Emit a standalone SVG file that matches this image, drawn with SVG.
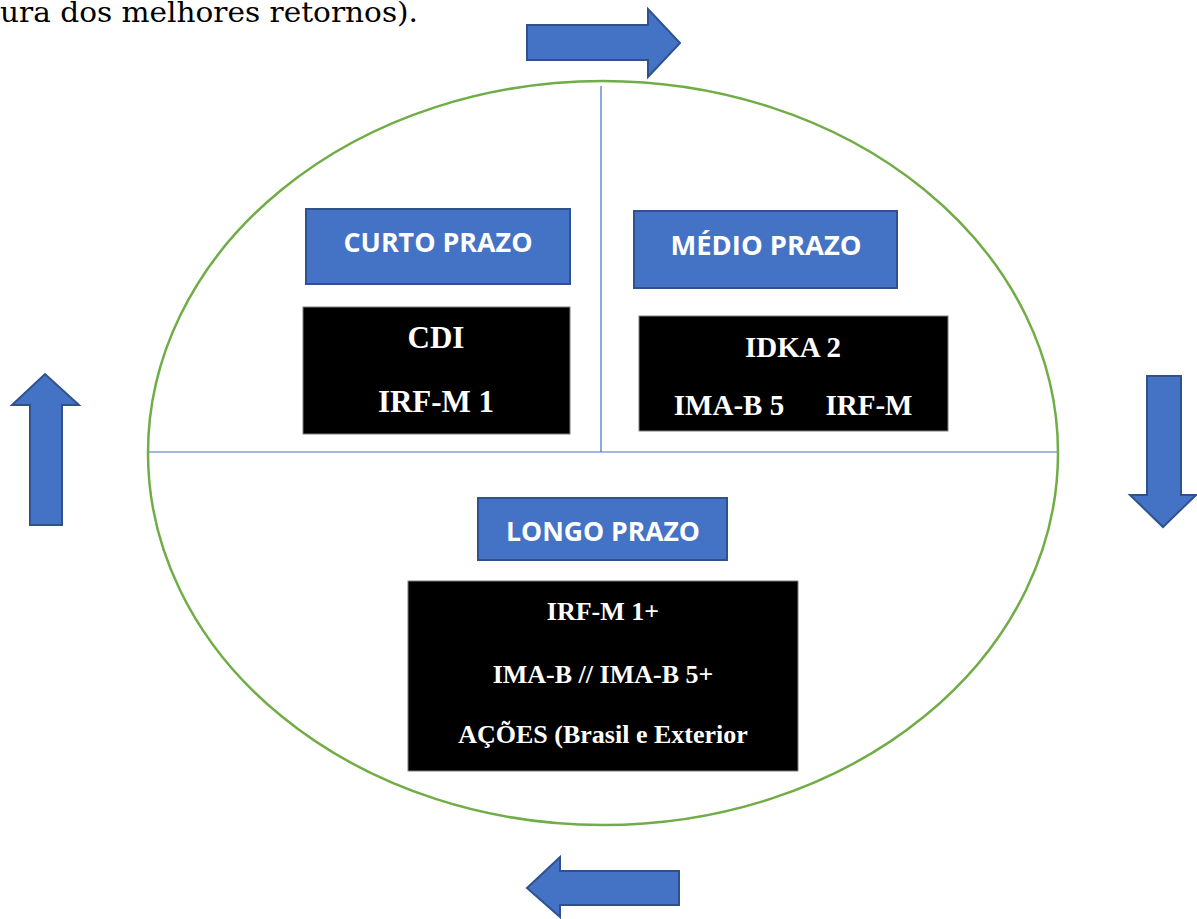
<svg xmlns="http://www.w3.org/2000/svg" width="1197" height="919" viewBox="0 0 1197 919">
<style>
.arrow{fill:#4472C4;stroke:#2F528F;stroke-width:2}
.lbl{fill:#4472C4;stroke:#2F528F;stroke-width:2}
.blk{fill:#000;stroke:#7f7f7f;stroke-width:1}
.lt{font-family:"Open Sans","Liberation Sans",sans-serif;font-weight:bold;font-size:26px;fill:#fff;text-anchor:middle}
.bt{font-family:"Liberation Serif",serif;font-weight:bold;fill:#fff;text-anchor:middle}
.div{stroke:#4472C4;stroke-width:1.2;fill:none}
</style>
<rect width="1197" height="919" fill="#fff"/>
<text x="0" y="22" font-family="DejaVu Serif,serif" font-size="27" fill="#000" textLength="418" lengthAdjust="spacingAndGlyphs">ura dos melhores retornos).</text>
<g id="cycle">
<ellipse cx="603" cy="453" rx="455" ry="372" fill="none" stroke="#70AD47" stroke-width="2.5"/>
</g>
<g id="connectors">
<line class="div" x1="601" y1="86" x2="601" y2="452"/>
<line class="div" x1="149" y1="452" x2="1057" y2="452"/>
<polygon id="arrow-right" class="arrow" points="527,25 648,25 648,9 680,43 648,77 648,60 527,60"/>
<polygon id="arrow-down" class="arrow" points="1147,376 1181,376 1181,495 1196,495 1163,527 1130,495 1147,495"/>
<polygon id="arrow-left" class="arrow" points="679,871 679,905 560,905 560,917 527,888 560,857 560,871"/>
<polygon id="arrow-up" class="arrow" points="30,525 62,525 62,405 79,405 45,374 12,405 30,405"/>
</g>
<g id="curto">
<rect class="lbl" x="306" y="209" width="264" height="75"/>
<text class="lt" x="438" y="252" textLength="189" lengthAdjust="spacingAndGlyphs">CURTO PRAZO</text>
<rect class="blk" x="303" y="307" width="267" height="127"/>
<text class="bt" x="436" y="348" font-size="31">CDI</text>
<text class="bt" x="436" y="412" font-size="31">IRF-M 1</text>
</g>
<g id="medio">
<rect class="lbl" x="634" y="211" width="263" height="77"/>
<text class="lt" x="766" y="255" textLength="191" lengthAdjust="spacingAndGlyphs">MÉDIO PRAZO</text>
<rect class="blk" x="639" y="316" width="309" height="115"/>
<text class="bt" x="793" y="357" font-size="29">IDKA 2</text>
<text class="bt" x="729" y="415" font-size="29">IMA-B 5</text>
<text class="bt" x="869" y="415" font-size="29">IRF-M</text>
</g>
<g id="longo">
<rect class="lbl" x="478" y="498" width="249" height="62"/>
<text class="lt" x="603" y="541" textLength="194" lengthAdjust="spacingAndGlyphs">LONGO PRAZO</text>
<rect class="blk" x="408" y="581" width="390" height="190"/>
<text class="bt" x="603" y="620" font-size="26">IRF-M 1+</text>
<text class="bt" x="603" y="683" font-size="26">IMA-B // IMA-B 5+</text>
<text class="bt" x="603" y="743" font-size="26">AÇÕES (Brasil e Exterior</text>
</g>
</svg>
